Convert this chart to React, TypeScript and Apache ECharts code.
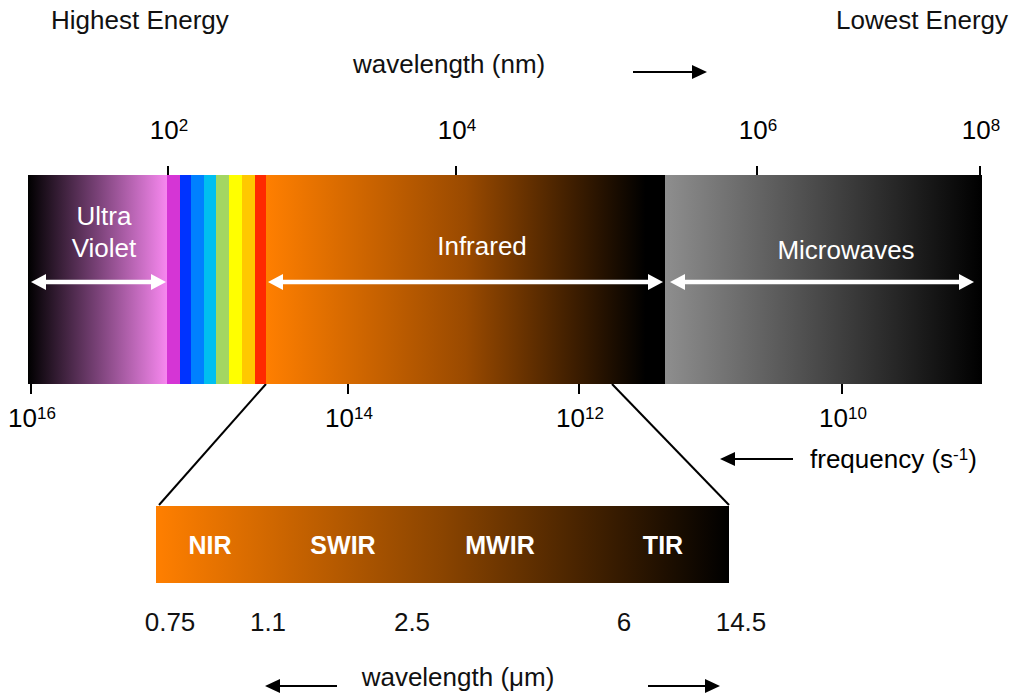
import React, { useEffect, useRef } from "react";
import * as echarts from "echarts";

const FONT = "'Liberation Sans', Arial, Helvetica, sans-serif";

// ---- Main spectrum bar (schematic positions along the bar, short -> long wavelength)
const SPECTRUM_LENGTH = 954;
const SPECTRUM_DEPTH = 209;
const bandNames = ["Ultra Violet", "Violet", "Blue", "Light blue", "Cyan", "Green", "Yellow", "Orange", "Red", "Infrared", "Microwaves"];
const bandStart = [0, 139, 152, 163, 176, 188, 201, 214, 227, 238, 637];
const bandEnd = [139, 152, 163, 176, 188, 201, 214, 227, 238, 637, 954];
const bandColorFrom = ["#000000", "#d535d5", "#0033ff", "#0080ff", "#00bff0", "#a3d662", "#ffff00", "#ffc800", "#ff2a00", "#ff7f00", "#8e8e8e"];
const bandColorMid = ["#7a4278", "#d535d5", "#0033ff", "#0080ff", "#00bff0", "#a3d662", "#ffff00", "#ffc800", "#ff2a00", "#9a4a00", "#474747"];
const bandColorTo = ["#f888f0", "#d535d5", "#0033ff", "#0080ff", "#00bff0", "#a3d662", "#ffff00", "#ffc800", "#ff2a00", "#000000", "#000000"];

// wavelength (nm) ticks on top, frequency (s^-1) ticks below
const wavelengthTickPos = [140, 428, 729, 952];
const wavelengthTickExp = ["2", "4", "6", "8"];
const frequencyTickPos = [3, 320, 551, 814];
const frequencyTickExp = ["16", "14", "12", "10"];

// labelled regions with white double arrows
const regionNames = ["Ultra\nViolet", "Infrared", "Microwaves"];
const regionFrom = [3, 240, 642];
const regionTo = [138, 635, 946];
const regionLabelPos = [76, 454, 818];
const regionLabelDepth = [57, 71, 75];
const REGION_ARROW_DEPTH = 107;

// ---- Infrared detail bar
const IR_LENGTH = 573;
const IR_DEPTH = 77;
const irBandNames = ["NIR", "SWIR", "MWIR", "TIR"];
const irBandLabelPos = [54, 187, 344, 507];
const irMicronLabels = ["0.75", "1.1", "2.5", "6", "14.5"];
const irMicronPos = [14, 112, 256, 468, 585];

// connector: spectrum position -> IR bar position
const zoomFromSpectrum = [238, 584];
const zoomToIr = [3, 573];

const RICH_POW = {
  b: { fontSize: 26, fontFamily: FONT, color: "#111", lineHeight: 26 },
  s: { fontSize: 17, fontFamily: FONT, color: "#111", lineHeight: 13, verticalAlign: "top" },
};

function blackArrow(tail: number, tip: number, y: number) {
  const dir = tip > tail ? 1 : -1;
  const headLen = 15;
  const half = 7;
  const base = tip - dir * headLen;
  return [
    {
      type: "line",
      shape: { x1: tail, y1: y, x2: base + dir * 1, y2: y },
      style: { stroke: "#000", lineWidth: 2.2 },
    },
    {
      type: "polygon",
      shape: { points: [[tip, y], [base, y - half], [base, y + half]] },
      style: { fill: "#000" },
    },
  ];
}

export default function App() {
  const ref = useRef<HTMLDivElement>(null);

  useEffect(() => {
    if (!ref.current) return;
    const chart = echarts.init(ref.current, undefined, { renderer: "svg" });

    const option: any = {
      animation: false,
      backgroundColor: "#ffffff",
      grid: [
        { left: 28, top: 175, width: 954, height: 209 },
        { left: 156, top: 506, width: 573, height: 77 },
      ],
      xAxis: [
        { type: "value", gridIndex: 0, min: 0, max: SPECTRUM_LENGTH, show: false },
        { type: "value", gridIndex: 1, min: 0, max: IR_LENGTH, show: false },
      ],
      yAxis: [
        { type: "value", gridIndex: 0, min: 0, max: SPECTRUM_DEPTH, inverse: true, show: false },
        { type: "value", gridIndex: 1, min: 0, max: IR_DEPTH, inverse: true, show: false },
      ],
      series: [
        {
          name: "bands",
          type: "custom",
          xAxisIndex: 0,
          yAxisIndex: 0,
          clip: false,
          data: bandStart.map((s, i) => ({ name: bandNames[i], value: [s, bandEnd[i]] })),
          renderItem: (params: any, api: any) => {
            const i = params.dataIndex;
            const p0 = api.coord([api.value(0), 0]);
            const p1 = api.coord([api.value(1), SPECTRUM_DEPTH]);
            return {
              type: "rect",
              shape: { x: p0[0], y: p0[1], width: p1[0] - p0[0] + (i < bandStart.length - 1 ? 0.6 : 0), height: p1[1] - p0[1] },
              style: {
                fill: new echarts.graphic.LinearGradient(0, 0, 1, 0, [
                  { offset: 0, color: bandColorFrom[i] },
                  { offset: 0.5, color: bandColorMid[i] },
                  { offset: i === 9 ? 0.95 : 1, color: bandColorTo[i] },
                  { offset: 1, color: bandColorTo[i] },
                ]),
              },
            };
          },
        },
        {
          name: "wavelength ticks",
          type: "custom",
          xAxisIndex: 0,
          yAxisIndex: 0,
          clip: false,
          data: wavelengthTickPos.map((v) => [v, 0]),
          renderItem: (params: any, api: any) => {
            const i = params.dataIndex;
            const p = api.coord([api.value(0), 0]);
            return {
              type: "group",
              children: [
                { type: "line", shape: { x1: p[0], y1: p[1] - 9, x2: p[0], y2: p[1] }, style: { stroke: "#000", lineWidth: 2 } },
                {
                  type: "text",
                  x: p[0] + 1,
                  y: p[1] - 45,
                  style: { text: `{b|10}{s|${wavelengthTickExp[i]}}`, rich: RICH_POW, align: "center", verticalAlign: "middle" },
                },
              ],
            };
          },
        },
        {
          name: "frequency ticks",
          type: "custom",
          xAxisIndex: 0,
          yAxisIndex: 0,
          clip: false,
          data: frequencyTickPos.map((v) => [v, SPECTRUM_DEPTH]),
          renderItem: (params: any, api: any) => {
            const i = params.dataIndex;
            const p = api.coord([api.value(0), SPECTRUM_DEPTH]);
            return {
              type: "group",
              children: [
                { type: "line", shape: { x1: p[0], y1: p[1], x2: p[0], y2: p[1] + 10 }, style: { stroke: "#000", lineWidth: 2 } },
                {
                  type: "text",
                  x: p[0] + 1,
                  y: p[1] + 34,
                  style: { text: `{b|10}{s|${frequencyTickExp[i]}}`, rich: RICH_POW, align: "center", verticalAlign: "middle" },
                },
              ],
            };
          },
        },
        {
          name: "regions",
          type: "custom",
          xAxisIndex: 0,
          yAxisIndex: 0,
          clip: false,
          data: regionFrom.map((f, i) => ({ name: regionNames[i], value: [f, regionTo[i], regionLabelPos[i], regionLabelDepth[i]] })),
          renderItem: (params: any, api: any) => {
            const i = params.dataIndex;
            const a = api.coord([api.value(0), REGION_ARROW_DEPTH]);
            const b = api.coord([api.value(1), REGION_ARROW_DEPTH]);
            const l = api.coord([api.value(2), api.value(3)]);
            const y = a[1];
            const head = 15;
            const half = 8;
            return {
              type: "group",
              children: [
                { type: "line", shape: { x1: a[0] + head - 1, y1: y, x2: b[0] - head + 1, y2: y }, style: { stroke: "#fff", lineWidth: 4.5 } },
                { type: "polygon", shape: { points: [[a[0], y], [a[0] + head, y - half], [a[0] + head, y + half]] }, style: { fill: "#fff" } },
                { type: "polygon", shape: { points: [[b[0], y], [b[0] - head, y - half], [b[0] - head, y + half]] }, style: { fill: "#fff" } },
                {
                  type: "text",
                  x: l[0],
                  y: l[1],
                  style: {
                    text: regionNames[i],
                    fill: "#ffffff",
                    fontSize: 26,
                    fontFamily: FONT,
                    lineHeight: 32,
                    align: "center",
                    verticalAlign: "middle",
                  },
                },
              ],
            };
          },
        },
        {
          name: "infrared detail",
          type: "custom",
          xAxisIndex: 1,
          yAxisIndex: 1,
          clip: false,
          data: [[0, IR_LENGTH]],
          renderItem: (params: any, api: any) => {
            const p0 = api.coord([api.value(0), 0]);
            const p1 = api.coord([api.value(1), IR_DEPTH]);
            return {
              type: "rect",
              shape: { x: p0[0], y: p0[1], width: p1[0] - p0[0], height: p1[1] - p0[1] },
              style: {
                fill: new echarts.graphic.LinearGradient(0, 0, 1, 0, [
                  { offset: 0, color: "#ff7f00" },
                  { offset: 0.5, color: "#8a4400" },
                  { offset: 1, color: "#000000" },
                ]),
              },
            };
          },
        },
        {
          name: "infrared bands",
          type: "custom",
          xAxisIndex: 1,
          yAxisIndex: 1,
          clip: false,
          data: irBandLabelPos.map((v, i) => ({ name: irBandNames[i], value: [v, IR_DEPTH / 2] })),
          renderItem: (params: any, api: any) => {
            const p = api.coord([api.value(0), api.value(1)]);
            return {
              type: "text",
              x: p[0],
              y: p[1],
              style: {
                text: irBandNames[params.dataIndex],
                fill: "#ffffff",
                fontSize: 25,
                fontWeight: "bold",
                fontFamily: FONT,
                align: "center",
                verticalAlign: "middle",
              },
            };
          },
        },
        {
          name: "micron labels",
          type: "custom",
          xAxisIndex: 1,
          yAxisIndex: 1,
          clip: false,
          data: irMicronPos.map((v, i) => ({ name: irMicronLabels[i], value: [v, IR_DEPTH] })),
          renderItem: (params: any, api: any) => {
            const p = api.coord([api.value(0), api.value(1)]);
            return {
              type: "text",
              x: p[0],
              y: p[1] + 39,
              style: {
                text: irMicronLabels[params.dataIndex],
                fill: "#111",
                fontSize: 26,
                fontFamily: FONT,
                align: "center",
                verticalAlign: "middle",
              },
            };
          },
        },
      ],
    };

    chart.setOption(option);

    // connectors from the infrared band of the spectrum to the detail bar
    const connectors = zoomFromSpectrum.map((s, i) => {
      const top = chart.convertToPixel({ xAxisIndex: 0, yAxisIndex: 0 }, [s, SPECTRUM_DEPTH]) as number[];
      const bottom = chart.convertToPixel({ xAxisIndex: 1, yAxisIndex: 1 }, [zoomToIr[i], 0]) as number[];
      return {
        type: "line",
        shape: { x1: top[0], y1: top[1], x2: bottom[0], y2: bottom[1] - 1 },
        style: { stroke: "#000", lineWidth: 2 },
      };
    });

    const textBase = { fill: "#111", fontSize: 26, fontFamily: FONT, verticalAlign: "middle" };
    chart.setOption({
      graphic: [
        { type: "text", x: 51, y: 20, style: { ...textBase, text: "Highest Energy", align: "left" } },
        { type: "text", x: 1008, y: 20, style: { ...textBase, text: "Lowest Energy", align: "right" } },
        { type: "text", x: 353, y: 64, style: { ...textBase, text: "wavelength (nm)", align: "left" } },
        {
          type: "text",
          x: 810,
          y: 459,
          style: {
            text: "{b|frequency (s}{s|-1}{b|)}",
            rich: RICH_POW,
            align: "left",
            verticalAlign: "middle",
          },
        },
        { type: "text", x: 458, y: 677, style: { ...textBase, text: "wavelength (μm)", align: "center" } },
        ...blackArrow(633, 707, 72),
        ...blackArrow(793, 720, 459),
        ...blackArrow(337, 265, 686),
        ...blackArrow(648, 720, 686),
        ...connectors,
      ],
    });

    return () => chart.dispose();
  }, []);

  return (
    <div
      ref={ref}
      style={{ position: "absolute", left: 0, top: 0, width: 1013, height: 698, background: "#fff" }}
    />
  );
}
